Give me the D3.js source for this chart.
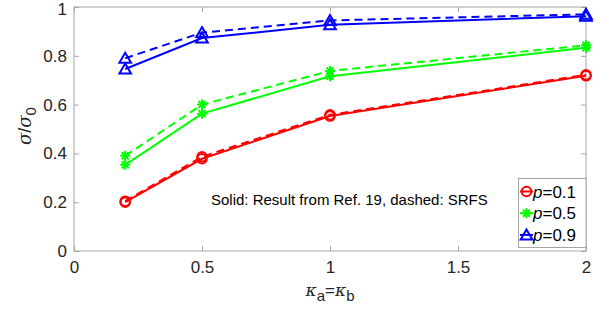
<!DOCTYPE html>
<html><head><meta charset="utf-8">
<script src="https://cdn.jsdelivr.net/npm/d3@7/dist/d3.min.js"></script>
<style>
body{margin:0;background:#fff;}
text{font-family:"Liberation Sans",Arial,Helvetica,sans-serif;}
</style></head>
<body>
<svg id="c" width="609" height="320"></svg>
<script>
const kappa = [0.2, 0.5, 1, 2];
const pLabels = ["0.1", "0.5", "0.9"];
const solidP01 = [0.200, 0.378, 0.553, 0.718];
const dashedP01 = [0.204, 0.386, 0.558, 0.722];
const solidP05 = [0.353, 0.563, 0.716, 0.833];
const dashedP05 = [0.390, 0.600, 0.738, 0.843];
const solidP09 = [0.746, 0.873, 0.927, 0.962];
const dashedP09 = [0.790, 0.895, 0.945, 0.970];
const xTicks = [0, 0.5, 1, 1.5, 2];
const yTicks = [0, 0.2, 0.4, 0.6, 0.8, 1];

const series = [
  {p: pLabels[0], color: "#ff0000", marker: "circle", solid: solidP01, dashed: dashedP01},
  {p: pLabels[1], color: "#00ff00", marker: "star", solid: solidP05, dashed: dashedP05},
  {p: pLabels[2], color: "#0000ff", marker: "triangle", solid: solidP09, dashed: dashedP09}
];

const svg = d3.select("#c");
const L = 74, R = 586, T = 7, B = 251;
const x = d3.scaleLinear().domain([0, 2]).range([L, R]);
const y = d3.scaleLinear().domain([0, 1]).range([B, T]);
const axisCol = "#a6a6a6", txtCol = "#262626";

// box
svg.append("rect").attr("x", L).attr("y", T).attr("width", R - L).attr("height", B - T)
  .attr("fill", "none").attr("stroke", axisCol).attr("stroke-width", 1);

const tl = 5;
// axes with inner ticks
const gx = svg.append("g").attr("transform", `translate(0,${B})`)
  .call(d3.axisBottom(x).tickValues(xTicks).tickSizeInner(-tl).tickSizeOuter(0).tickPadding(10)
    .tickFormat(d => d3.format("")(d)));
const gy = svg.append("g").attr("transform", `translate(${L},0)`)
  .call(d3.axisLeft(y).tickValues(yTicks).tickSizeInner(-tl).tickSizeOuter(0).tickPadding(7)
    .tickFormat(d => d3.format("")(d)));
const gxt = svg.append("g").attr("transform", `translate(0,${T})`)
  .call(d3.axisTop(x).tickValues(xTicks).tickSizeInner(-tl).tickSizeOuter(0).tickFormat(""));
const gyr = svg.append("g").attr("transform", `translate(${R},0)`)
  .call(d3.axisRight(y).tickValues(yTicks).tickSizeInner(-tl).tickSizeOuter(0).tickFormat(""));
[gx, gy, gxt, gyr].forEach(g => {
  g.select(".domain").remove();
  g.selectAll("line").attr("stroke", axisCol);
  g.selectAll("text").attr("fill", txtCol).style("font-size", "17px")
    .style("font-family", '"Liberation Sans",Arial,sans-serif');
});
gx.selectAll("text").attr("dy", "0.71em");
// keep the top "1" label inside the frame
gy.selectAll(".tick").filter(d => d === 1).select("text").attr("dy", "0.45em");

// markers
function drawMarker(g, type, cx, cy, color) {
  if (type === "circle") {
    g.append("circle").attr("cx", cx).attr("cy", cy).attr("r", 4.8)
      .attr("fill", "none").attr("stroke", color).attr("stroke-width", 2);
  } else if (type === "triangle") {
    g.append("path").attr("d", `M${cx},${cy - 5.5}L${cx + 5.8},${cy + 4.5}L${cx - 5.8},${cy + 4.5}Z`)
      .attr("fill", "none").attr("stroke", color).attr("stroke-width", 2);
  } else {
    const r = 5;
    const d = [0, 45, 90, 135].map(a => {
      const rad = a * Math.PI / 180;
      return `M${cx - r * Math.cos(rad)},${cy - r * Math.sin(rad)}L${cx + r * Math.cos(rad)},${cy + r * Math.sin(rad)}`;
    }).join("");
    g.append("path").attr("d", d).attr("stroke", color).attr("stroke-width", 2).attr("fill", "none");
  }
}

const line = d3.line().x((d, i) => x(kappa[i])).y(d => y(d));
const plot = svg.append("g");
series.forEach(s => {
  ["solid", "dashed"].forEach(kind => {
    plot.append("path").datum(s[kind]).attr("d", line)
      .attr("fill", "none").attr("stroke", s.color).attr("stroke-width", 2)
      .attr("stroke-dasharray", kind === "dashed" ? "8,5" : null);
    s[kind].forEach((v, i) => drawMarker(plot, s.marker, x(kappa[i]), y(v), s.color));
  });
});

// annotation
svg.append("text").attr("x", 211).attr("y", 204.5).attr("fill", "#000")
  .style("font-size", "15px").text("Solid: Result from Ref. 19, dashed: SRFS");

// legend
const lg = svg.append("g");
lg.append("rect").attr("x", 518.5).attr("y", 178.5).attr("width", 67.5).attr("height", 69)
  .attr("fill", "#fff").attr("stroke", axisCol).attr("stroke-width", 1);
series.forEach((s, i) => {
  const cy = 191.5 + i * 21.7;
  lg.append("line").attr("x1", 520).attr("x2", 533).attr("y1", cy).attr("y2", cy)
    .attr("stroke", s.color).attr("stroke-width", 2);
  drawMarker(lg, s.marker, 526.5, cy, s.color);
  const t = lg.append("text").attr("x", 533).attr("y", cy).attr("dy", "0.36em")
    .attr("fill", "#000").style("font-size", "17px");
  t.append("tspan").style("font-style", "italic").text("p");
  t.append("tspan").text("=" + s.p);
});

// axis labels
const xl = svg.append("text").attr("x", 330).attr("y", 296).attr("text-anchor", "middle")
  .attr("fill", txtCol).style("font-size", "17px");
xl.append("tspan").style("font-family", '"DejaVu Serif",serif').style("font-style", "italic").text("κ");
xl.append("tspan").attr("dy", 5).style("font-size", "15px").text("a");
xl.append("tspan").attr("dy", -5).text("=");
xl.append("tspan").style("font-family", '"DejaVu Serif",serif').style("font-style", "italic").text("κ");
xl.append("tspan").attr("dy", 5).style("font-size", "15px").text("b");

const yl = svg.append("text").attr("transform", "translate(31,126) rotate(-90)").attr("text-anchor", "middle")
  .attr("fill", txtCol).style("font-size", "18px");
yl.append("tspan").style("font-family", '"DejaVu Serif",serif').style("font-style", "italic").text("σ");
yl.append("tspan").text("/");
yl.append("tspan").style("font-family", '"DejaVu Serif",serif').style("font-style", "italic").text("σ");
yl.append("tspan").attr("dy", 5).style("font-size", "15px").text("0");
</script>
</body></html>
